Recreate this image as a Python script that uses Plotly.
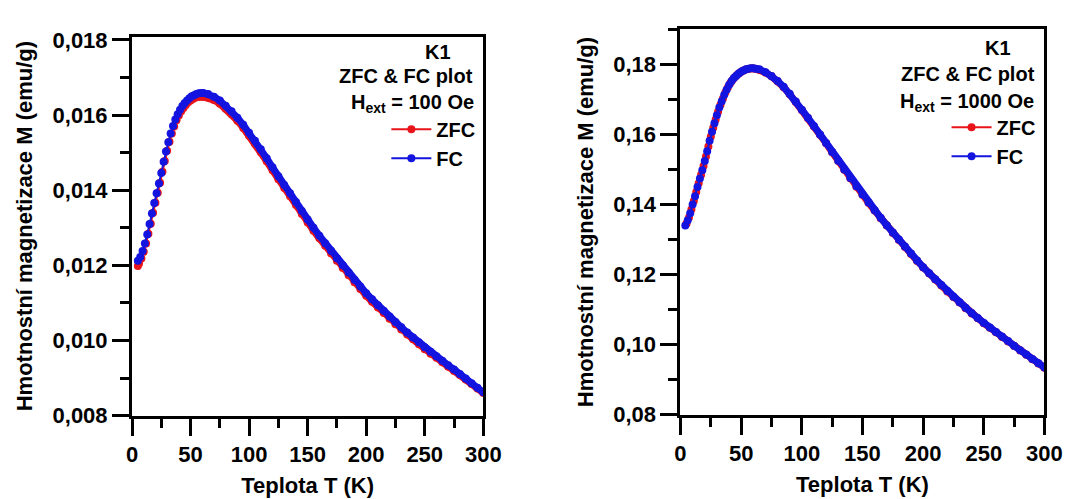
import plotly.graph_objects as go

# ---------------- data ----------------
# Left panel: H_ext = 100 Oe
T_fc_100 = [5, 7, 9, 11, 13, 15, 17, 19, 21, 23, 25, 27, 29, 31, 33, 35, 37, 39, 41, 43, 45, 47, 49, 51, 53, 55, 57, 59, 61,
            65, 70, 75, 80, 85, 90, 95, 100, 105, 110, 115, 120, 125, 130, 135, 140, 145, 150, 155, 160, 165, 170, 175,
            180, 185, 190, 195, 200, 205, 210, 215, 220, 225, 230, 235, 240, 245, 250, 255, 260, 265, 270, 275, 280,
            285, 290, 295, 300]
M_fc_100 = [0.01212, 0.01222, 0.01238, 0.01258, 0.01282, 0.01310, 0.01338, 0.01366, 0.01392, 0.01418, 0.01446,
            0.01476, 0.01503, 0.01528, 0.01551, 0.01571, 0.01588, 0.01602, 0.01614, 0.01624, 0.01632, 0.01639,
            0.01645, 0.01650, 0.01653, 0.01656, 0.01658, 0.01659, 0.01659,
            0.01656, 0.01649, 0.01639, 0.01625, 0.01610, 0.01593, 0.01574, 0.01553, 0.01532, 0.01509, 0.01485,
            0.01461, 0.01437, 0.01414, 0.01392, 0.01369, 0.01345, 0.01322, 0.01300, 0.01279, 0.01259, 0.01239,
            0.01219, 0.01200, 0.01181, 0.01162, 0.01144, 0.01126, 0.01110, 0.01094, 0.01079, 0.01064, 0.01049,
            0.01035, 0.01021, 0.01008, 0.00995, 0.00982, 0.00970, 0.00958, 0.00946, 0.00934, 0.00923, 0.00911,
            0.00899, 0.00886, 0.00874, 0.00862]
T_zfc_100 = [5, 6, 8, 10, 12, 14, 16, 18, 20, 22, 24, 26, 28, 30, 32, 34, 36, 38, 40, 42, 44, 46, 48, 50, 52, 54, 56, 58,
             60, 62,
             65, 70, 75, 80, 85, 90, 95, 100, 105, 110, 115, 120, 125, 130, 135, 140, 145, 150, 155, 160, 165, 170, 175,
             180, 185, 190, 195, 200, 205, 210, 215, 220, 225, 230, 235, 240, 245, 250, 255, 260, 265, 270, 275, 280,
             285, 290, 295, 300]
M_zfc_100 = [0.01198, 0.01205, 0.01218, 0.01236, 0.01258, 0.01284, 0.01311, 0.01340, 0.01367, 0.01393, 0.01420,
             0.01449, 0.01478, 0.01505, 0.01529, 0.01551, 0.01570, 0.01586, 0.01599, 0.01610, 0.01619, 0.01627,
             0.01634, 0.01639, 0.01643, 0.01646, 0.01648, 0.01649, 0.01649, 0.01648,
             0.01647, 0.01640, 0.01630, 0.01617, 0.01602, 0.01585, 0.01566, 0.01545, 0.01524, 0.01501, 0.01477,
             0.01453, 0.01429, 0.01406, 0.01384, 0.01361, 0.01337, 0.01314, 0.01292, 0.01272, 0.01252, 0.01232,
             0.01212, 0.01193, 0.01174, 0.01155, 0.01137, 0.01119, 0.01103, 0.01088, 0.01073, 0.01058, 0.01043,
             0.01029, 0.01016, 0.01003, 0.00990, 0.00977, 0.00965, 0.00954, 0.00942, 0.00930, 0.00919, 0.00908,
             0.00896, 0.00884, 0.00872, 0.00860]

# Right panel: H_ext = 1000 Oe
T_fc_1000 = [4, 6, 8, 10, 12, 14, 16, 18, 20, 22, 24, 26, 28, 30, 32, 34, 36, 38, 40, 42, 44, 46, 48, 50, 52, 54, 56, 58,
             60, 62,
             65, 70, 75, 80, 85, 90, 95, 100, 105, 110, 115, 120, 125, 130, 135, 140, 145, 150, 155, 160, 165, 170, 175,
             180, 185, 190, 195, 200, 205, 210, 215, 220, 225, 230, 235, 240, 245, 250, 255, 260, 265, 270, 275, 280,
             285, 290, 295, 300]
M_fc_1000 = [0.1340, 0.1355, 0.1375, 0.1400, 0.1424, 0.1450, 0.1474, 0.1498, 0.1524, 0.1552, 0.1582, 0.1608, 0.1632,
             0.1655, 0.1677, 0.1695, 0.1713, 0.1728, 0.1741, 0.1752, 0.1761, 0.1768, 0.1774, 0.1779, 0.1783, 0.1786,
             0.1788, 0.1789, 0.1789, 0.1788,
             0.1786, 0.1778, 0.1767, 0.1753, 0.1736, 0.1716, 0.1694, 0.1671, 0.1648, 0.1624, 0.1600, 0.1576, 0.1550,
             0.1525, 0.1500, 0.1476, 0.1452, 0.1429, 0.1406, 0.1384, 0.1362, 0.1341, 0.1320, 0.1300, 0.1280, 0.1260,
             0.1240, 0.1221, 0.1204, 0.1187, 0.1170, 0.1153, 0.1137, 0.1121, 0.1105, 0.1090, 0.1076, 0.1062, 0.1049,
             0.1036, 0.1023, 0.1010, 0.0997, 0.0984, 0.0972, 0.0959, 0.0947, 0.0935]
T_zfc_1000 = [5, 7, 9, 11, 13, 15, 17, 19, 21, 23, 25, 27, 29, 31, 33, 35, 37, 39, 41, 43, 45, 47, 49, 51, 53, 55, 57,
              59, 61,
              65, 70, 75, 80, 85, 90, 95, 100, 105, 110, 115, 120, 125, 130, 135, 140, 145, 150, 155, 160, 165, 170,
              175, 180, 185, 190, 195, 200, 205, 210, 215, 220, 225, 230, 235, 240, 245, 250, 255, 260, 265, 270, 275,
              280, 285, 290, 295, 300]
M_zfc_1000 = [0.1346, 0.1363, 0.1386, 0.1410, 0.1436, 0.1461, 0.1485, 0.1510, 0.1537, 0.1566, 0.1594, 0.1619, 0.1643,
              0.1665, 0.1685, 0.1703, 0.1720, 0.1734, 0.1746, 0.1756, 0.1764, 0.1771, 0.1776, 0.1781, 0.1784, 0.1787,
              0.1788, 0.1789, 0.1788,
              0.1785, 0.1777, 0.1766, 0.1752, 0.1735, 0.1715, 0.1693, 0.1670, 0.1647, 0.1623, 0.1599, 0.1575, 0.1549,
              0.1524, 0.1499, 0.1475, 0.1451, 0.1428, 0.1405, 0.1383, 0.1361, 0.1340, 0.1319, 0.1299, 0.1279, 0.1259,
              0.1239, 0.1220, 0.1203, 0.1186, 0.1169, 0.1152, 0.1136, 0.1120, 0.1104, 0.1089, 0.1075, 0.1061, 0.1048,
              0.1035, 0.1022, 0.1009, 0.0996, 0.0983, 0.0971, 0.0958, 0.0946, 0.0934]

yticks_left = [0.008, 0.010, 0.012, 0.014, 0.016, 0.018]
yticklabels_left = ["0,008", "0,010", "0,012", "0,014", "0,016", "0,018"]
yticks_right = [0.08, 0.10, 0.12, 0.14, 0.16, 0.18]
yticklabels_right = ["0,08", "0,10", "0,12", "0,14", "0,16", "0,18"]
xticks = [0, 50, 100, 150, 200, 250, 300]
xticklabels = ["0", "50", "100", "150", "200", "250", "300"]

x_title = "Teplota T (K)"
y_title = "Hmotnostní magnetizace M (emu/g)"
sample = "K1"
plot_kind = "ZFC &amp; FC plot"
field_left = "H<sub>ext</sub> = 100 Oe"
field_right = "H<sub>ext</sub> = 1000 Oe"

# ---------------- styling ----------------
W, H = 1075, 499
FONT = "Liberation Sans"
RED = "#e8141a"
BLUE = "#1414e0"
DENSE_FROM = 65  # from here on the measured points merge into a continuous band


def px(x):
    return x / W


def py(y):
    return 1 - y / H


fig = go.Figure()


def add_series(T, M, name, color, xa, ya, legend):
    # continuous band where the measured points overlap
    Td = [t for t in T if t >= DENSE_FROM - 5]
    Md = [m for t, m in zip(T, M) if t >= DENSE_FROM - 5]
    fig.add_trace(go.Scatter(
        x=Td, y=Md, mode="lines", line=dict(color=color, width=7),
        xaxis=xa, yaxis=ya, showlegend=False, hoverinfo="skip",
    ))
    fig.add_trace(go.Scatter(
        x=T, y=M, name=name, mode="lines+markers",
        line=dict(color=color, width=2),
        marker=dict(color=color, size=8, symbol="circle"),
        xaxis=xa, yaxis=ya, legend=legend,
    ))


add_series(T_zfc_100, M_zfc_100, "ZFC", RED, "x", "y", "legend")
add_series(T_fc_100, M_fc_100, "FC", BLUE, "x", "y", "legend")
add_series(T_zfc_1000, M_zfc_1000, "ZFC", RED, "x2", "y2", "legend2")
add_series(T_fc_1000, M_fc_1000, "FC", BLUE, "x2", "y2", "legend2")

tickfont = dict(family=FONT, size=22, color="black", weight="bold")
xtitlefont = dict(family=FONT, size=22, color="black", weight="bold")
ytitlefont = dict(family=FONT, size=22, color="black", weight="bold")


def xaxis_cfg(domain, anchor):
    return dict(
        domain=domain, anchor=anchor, range=[0, 300],
        tickvals=xticks, ticktext=xticklabels,
        ticks="outside", ticklen=17, tickwidth=3, tickcolor="black",
        minor=dict(dtick=25, tick0=0, ticks="outside", ticklen=9, tickwidth=3, tickcolor="black", showgrid=False),
        showline=True, linewidth=3, linecolor="black", mirror=True,
        showgrid=False, zeroline=False, tickfont=tickfont,
        title=dict(text=x_title, font=xtitlefont, standoff=12),
    )


def yaxis_cfg(domain, anchor, rng, tv, tt, minor_dt):
    return dict(
        domain=domain, anchor=anchor, range=rng,
        tickvals=tv, ticktext=tt,
        ticks="outside", ticklen=17, tickwidth=3, tickcolor="black",
        minor=dict(dtick=minor_dt, tick0=rng[0], ticks="outside", ticklen=9, tickwidth=3, tickcolor="black",
                   showgrid=False),
        showline=True, linewidth=3, linecolor="black", mirror=True,
        showgrid=False, zeroline=False, tickfont=tickfont,
        title=dict(text=y_title, font=ytitlefont, standoff=14),
    )


legend_common = dict(
    font=dict(family=FONT, size=20, color="black", weight="bold"),
    bgcolor="rgba(0,0,0,0)", borderwidth=0, xanchor="right", yanchor="top",
    itemwidth=40, tracegroupgap=0, traceorder="normal",
)

fig.update_layout(
    width=W, height=H, margin=dict(l=0, r=0, t=0, b=0),
    paper_bgcolor="white", plot_bgcolor="white",
    showlegend=True,
    xaxis=xaxis_cfg([px(120.7), px(480)], "y"),
    yaxis=yaxis_cfg([py(417), py(20.5)], "x", [0.008, 0.01809], yticks_left, yticklabels_left, 0.001),
    xaxis2=xaxis_cfg([px(681.7), px(1054)], "y2"),
    yaxis2=yaxis_cfg([py(416), py(13)], "x2", [0.08, 0.19], yticks_right, yticklabels_right, 0.01),
    legend=dict(x=px(477), y=py(97), **legend_common),
    legend2=dict(x=px(1050), y=py(95), **legend_common),
)

annfont = dict(family=FONT, size=20, color="black", weight="bold")
anns = [
    (sample, 434, 37, "center"),
    (plot_kind, 472, 62, "right"),
    (field_left, 473, 90, "right"),
    (sample, 1006, 32, "center"),
    (plot_kind, 1046, 60, "right"),
    (field_right, 1045, 89, "right"),
]
for text, x, y, xa in anns:
    fig.add_annotation(text=text, x=px(x), y=py(y), xref="paper", yref="paper",
                       xanchor=xa, yanchor="middle", showarrow=False, font=annfont)

fig.write_html("out.html")
